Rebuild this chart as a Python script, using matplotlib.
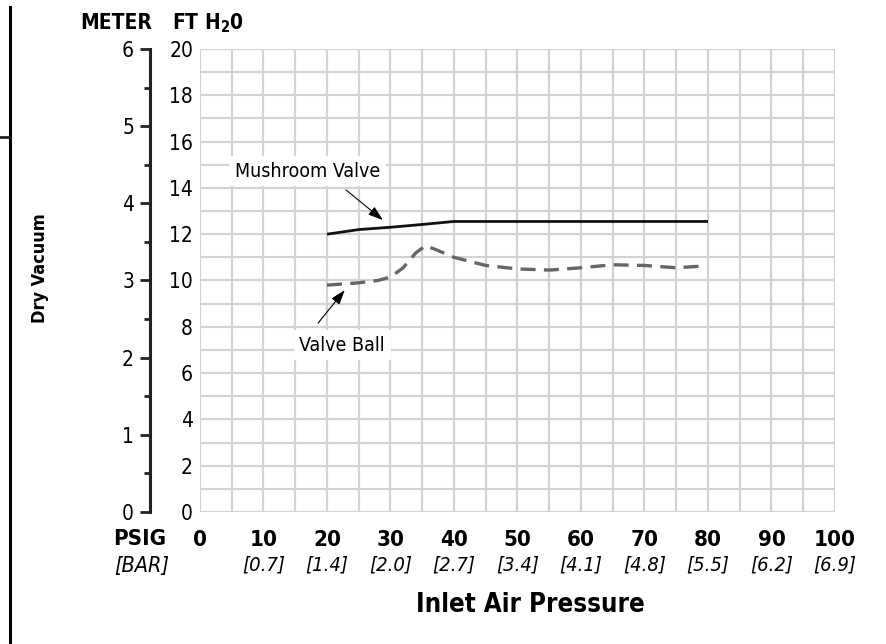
import matplotlib
matplotlib.use("Agg")
import matplotlib.pyplot as plt
import matplotlib.transforms as mtransforms

plt.rcParams['font.family'] = ['DejaVu Sans']
plt.rcParams['font.stretch'] = 'condensed'

# ---- data ----
psig_ticks = [0, 10, 20, 30, 40, 50, 60, 70, 80, 90, 100]
bar_labels = ["", "[0.7]", "[1.4]", "[2.0]", "[2.7]", "[3.4]", "[4.1]", "[4.8]", "[5.5]", "[6.2]", "[6.9]"]
ft_ticks = [0, 2, 4, 6, 8, 10, 12, 14, 16, 18, 20]
meter_ticks = [0, 1, 2, 3, 4, 5, 6]

mushroom_x = [20, 25, 30, 35, 40, 50, 60, 70, 80]
mushroom_y = [12.0, 12.2, 12.3, 12.42, 12.55, 12.55, 12.55, 12.55, 12.55]

ball_x = [20, 25, 28, 30, 32, 34, 35.5, 37, 40, 45, 50, 55, 60, 65, 70, 75, 79]
ball_y = [9.8, 9.9, 10.0, 10.15, 10.55, 11.2, 11.5, 11.35, 11.0, 10.65, 10.5, 10.45, 10.55, 10.68, 10.65, 10.55, 10.62]

W, H = 887, 644
fig = plt.figure(figsize=(W / 100, H / 100), dpi=100)

L, R, T, B = 200, 835, 49, 512
ax = fig.add_axes([L / W, 1 - B / H, (R - L) / W, (B - T) / H])
ax.set_xlim(0, 100)
ax.set_ylim(0, 20)
grid_c = "#d2d2d2"
for v in range(0, 101, 5):
    ax.axvline(v, color=grid_c, lw=1.6, zorder=0)
for v in range(0, 21, 1):
    ax.axhline(v, color=grid_c, lw=1.6, zorder=0)
for s in ax.spines.values():
    s.set_visible(False)

ax.plot(mushroom_x, mushroom_y, color="#111111", lw=2.0, solid_capstyle="butt", zorder=3)
ax.plot(ball_x, ball_y, color="#666666", lw=2.4, dashes=(4.5, 2.5), zorder=3)

ax.set_yticks(ft_ticks)
ax.set_yticklabels([str(v) for v in ft_ticks], fontsize=15)
ax.tick_params(axis="y", length=0, pad=5)
ax.set_xticks(psig_ticks)
ax.set_xticklabels([str(v) for v in psig_ticks], fontsize=16, fontweight="bold")
ax.tick_params(axis="x", length=0, pad=13)

trans = mtransforms.blended_transform_factory(ax.transData, fig.transFigure)
for v, lab in zip(psig_ticks, bar_labels):
    if lab:
        ax.text(v, 1 - 565 / H, lab, transform=trans, ha="center", va="center",
                fontsize=14.5, style="italic")

fig.text(140 / W, 1 - 539 / H, "PSIG", ha="center", va="center", fontsize=16, fontweight="bold")
fig.text(142 / W, 1 - 566 / H, "[BAR]", ha="center", va="center", fontsize=15.5, style="italic")
fig.text(530 / W, 1 - 605 / H, "Inlet Air Pressure", ha="center", va="center", fontsize=18.5, fontweight="bold")
fig.text(116 / W, 1 - 23 / H, "METER", ha="center", va="center", fontsize=15, fontweight="bold")
fig.text(172 / W, 1 - 23 / H, r"FT H$_\mathbf{2}$0", ha="left", va="center", fontsize=15, fontweight="bold")
fig.text(40 / W, 1 - 268 / H, "Dry Vacuum", ha="center", va="center", rotation=90, fontsize=13, fontweight="bold")

# meter axis
axm = fig.add_axes([150 / W, 1 - B / H, 0.001, (B - T) / H])
axm.set_ylim(0, 6)
axm.set_xticks([])
for k in ("top", "right", "bottom"):
    axm.spines[k].set_visible(False)
axm.spines["left"].set_linewidth(2.2)
axm.spines["left"].set_color("#222222")
axm.patch.set_alpha(0)
axm.set_yticks(meter_ticks)
axm.set_yticklabels([str(v) for v in meter_ticks], fontsize=15)
axm.set_yticks([v + 0.5 for v in meter_ticks[:-1]], minor=True)
axm.tick_params(axis="y", which="major", length=7.5, width=2, color="#222222", pad=4)
axm.tick_params(axis="y", which="minor", length=4.5, width=2, color="#222222")

# annotations
box = dict(boxstyle="square,pad=0.3", fc="white", ec="none")
ax.text(17.0, 14.73, "Mushroom Valve", ha="center", va="center", fontsize=14, bbox=box, zorder=4)
ax.text(22.4, 7.21, "Valve Ball", ha="center", va="center", fontsize=14, bbox=box, zorder=4)
aprops = dict(arrowstyle="-|>,head_length=0.9,head_width=0.3", lw=0.8, color="black",
              shrinkA=0, shrinkB=0)
ax.annotate("", xy=(28.8, 12.61), xytext=(23.0, 13.91), arrowprops=aprops, zorder=4)
ax.annotate("", xy=(22.8, 9.59), xytext=(18.6, 8.16), arrowprops=aprops, zorder=4)

# left border line
fig.add_artist(plt.Line2D([10 / W, 10 / W], [0, 1 - 7 / H], transform=fig.transFigure, color="black", lw=2.2))
fig.add_artist(plt.Line2D([0, 9 / W], [1 - 137 / H, 1 - 137 / H], transform=fig.transFigure, color="#222222", lw=2))

fig.savefig("out.png", dpi=100)
